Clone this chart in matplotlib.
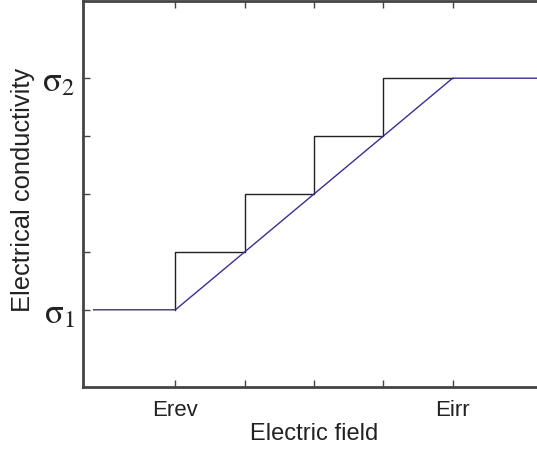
import numpy as np
import matplotlib
matplotlib.use('Agg')
import matplotlib.pyplot as plt

plt.rcParams['font.family'] = ['Liberation Sans', 'DejaVu Sans']
plt.rcParams['mathtext.fontset'] = 'stix'

# conductivity model: smooth ramp between Erev and Eirr
fieldRamp = [-0.18, 1, 5, 6.33]
sigmaRamp = [1, 1, 5, 5]

# staircase approximation
fieldStairs = [1, 1, 2, 2, 3, 3, 4, 4, 5]
sigmaStairs = [1, 2, 2, 3, 3, 4, 4, 5, 5]

xTicks = [1, 2, 3, 4, 5]
xTickLabels = ['Erev', '', '', '', 'Eirr']
yTicks = [1, 2, 3, 4, 5]
yTickLabels = [r'$\mathrm{\sigma}_1$', '', '', '', r'$\mathrm{\sigma}_2$']

fig = plt.figure(figsize=(5.37, 4.5), dpi=100)
ax = fig.add_axes([83/537, 1 - 387/450, 462/537, 386/450])

ax.plot(fieldStairs, sigmaStairs, color='#222222', lw=1.0)
ax.plot(fieldRamp, sigmaRamp, color='#3c2d96', lw=1.0)

ax.set_xlim(-1/3, 6 + 1/3)
ax.set_ylim(-1/3, 6 + 1/3)

ax.set_xticks(xTicks)
ax.set_xticklabels(xTickLabels, fontsize=16, color='#222222')
ax.set_yticks(yTicks)
ax.set_yticklabels(yTickLabels, fontsize=25, color='#222222')

ax.tick_params(axis='x', direction='in', top=True, length=5, width=1, color='#444444', pad=9)
ax.tick_params(axis='y', direction='in', right=False, length=5, width=1, color='#444444', pad=6)

for side in ['left', 'bottom', 'top']:
    ax.spines[side].set_linewidth(2.0)
    ax.spines[side].set_color('#444444')
ax.spines['right'].set_visible(False)

ax.set_xlabel('Electric field', fontsize=17, color='#222222', labelpad=2)
ax.set_ylabel('Electrical conductivity', fontsize=18.4, color='#222222')
ax.yaxis.set_label_coords(-0.104, 0.51)

fig.savefig('out.png', dpi=100)
